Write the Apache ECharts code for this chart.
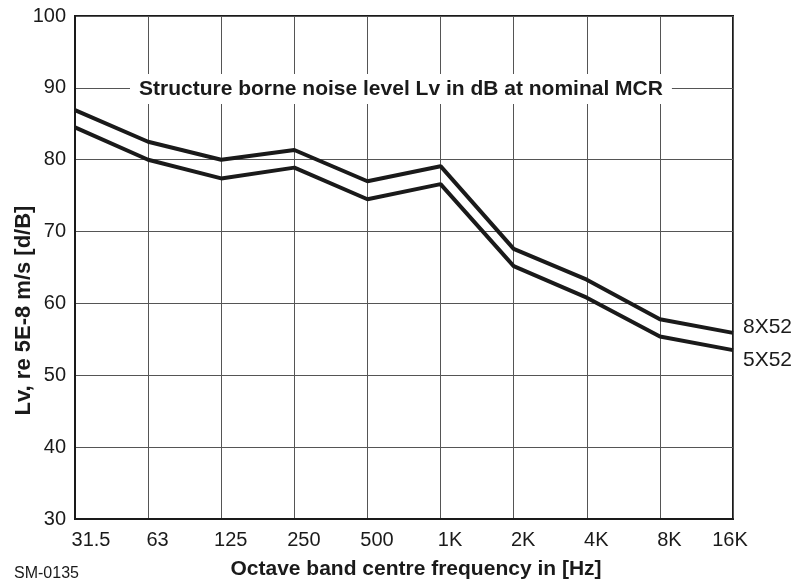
<!DOCTYPE html>
<html>
<head>
<meta charset="utf-8">
<script src="https://cdn.jsdelivr.net/npm/echarts@6/dist/echarts.min.js"></script>
<style>
  html, body { margin: 0; padding: 0; background: #fff; }
  #chart { width: 795px; height: 587px; }
</style>
</head>
<body>
<div id="chart"></div>
<script>
// Octave band centre frequencies
const bands = ['31.5', '63', '125', '250', '500', '1K', '2K', '4K', '8K', '16K'];
// Structure borne noise level Lv [dB]
const lv8X52 = [86.9, 82.5, 80.0, 81.35, 77.0, 79.1, 67.6, 63.3, 57.8, 55.9];
const lv5X52 = [84.5, 80.0, 77.4, 78.9, 74.5, 76.6, 65.2, 60.8, 55.4, 53.5];
const seriesNames = ['8X52', '5X52'];
const yTicks = [30, 40, 50, 60, 70, 80, 90, 100];

const FONT = '"Liberation Sans", Arial, sans-serif';
const INK = '#1a1a1a';

const chart = echarts.init(document.getElementById('chart'));

function bandLabel(v, i) {
  if (i === 0) return '{f|' + v + '}';
  if (i === bands.length - 1) return '{l|' + v + '}';
  return '{m|' + v + '}';
}

chart.setOption({
  backgroundColor: '#fff',
  animation: false,
  title: {
    text: 'Structure borne noise level Lv in dB at nominal MCR',
    left: 130,
    top: 74,
    padding: [5, 9, 4, 9],
    backgroundColor: '#fff',
    textStyle: { fontFamily: FONT, fontWeight: 'bold', fontSize: 21, color: INK }
  },
  grid: {
    left: 75, right: 62, top: 16, bottom: 68,
    outerBoundsMode: 'none',
    containLabel: false,
    show: true, borderColor: INK, borderWidth: 2, backgroundColor: 'transparent'
  },
  xAxis: {
    type: 'category',
    data: bands,
    boundaryGap: false,
    name: 'Octave band centre frequency in [Hz]',
    nameLocation: 'middle',
    nameGap: 40,
    nameTextStyle: { fontFamily: FONT, fontWeight: 'bold', fontSize: 21, color: INK, padding: [0, 0, 0, 24] },
    axisLine: { show: true, lineStyle: { color: INK, width: 2 } },
    axisTick: { show: false },
    splitLine: { show: true, lineStyle: { color: '#555', width: 1 } },
    axisLabel: {
      interval: 0,
      margin: 11,
      fontFamily: FONT, fontSize: 20, color: INK,
      formatter: bandLabel,
      rich: {
        f: { fontFamily: FONT, fontSize: 20, color: INK, padding: [0, 0, 0, 32] },
        m: { fontFamily: FONT, fontSize: 20, color: INK, padding: [0, 0, 0, 19] },
        l: { fontFamily: FONT, fontSize: 20, color: INK, padding: [0, 6, 0, 0] }
      }
    }
  },
  yAxis: {
    type: 'value',
    min: yTicks[0],
    max: yTicks[yTicks.length - 1],
    interval: 10,
    name: 'Lv, re 5E-8 m/s [d/B]',
    nameLocation: 'middle',
    nameGap: 40,
    nameMoveOverlap: false,
    nameRotate: 90,
    nameTextStyle: { fontFamily: FONT, fontWeight: 'bold', fontSize: 22, color: INK, padding: [0, 86, 0, 0] },
    axisLine: { show: true, lineStyle: { color: INK, width: 2 } },
    axisTick: { show: false },
    splitLine: { show: true, lineStyle: { color: '#555', width: 1 } },
    axisLabel: { margin: 9, fontFamily: FONT, fontSize: 20, color: INK }
  },
  series: [
    {
      name: seriesNames[0],
      type: 'line',
      data: lv8X52,
      symbol: 'none',
      lineStyle: { color: INK, width: 4 },
      z: 5,
      endLabel: {
        show: true, formatter: '{a}', offset: [2, -6],
        fontFamily: FONT, fontSize: 21, color: INK
      }
    },
    {
      name: seriesNames[1],
      type: 'line',
      data: lv5X52,
      symbol: 'none',
      lineStyle: { color: INK, width: 4 },
      z: 5,
      endLabel: {
        show: true, formatter: '{a}', offset: [2, 10],
        fontFamily: FONT, fontSize: 21, color: INK
      }
    }
  ],
  graphic: [
    {
      type: 'text', left: 14, top: 566,
      style: { text: 'SM-0135', fontFamily: FONT, fontSize: 16, fill: INK }
    }
  ]
});
</script>
</body>
</html>
